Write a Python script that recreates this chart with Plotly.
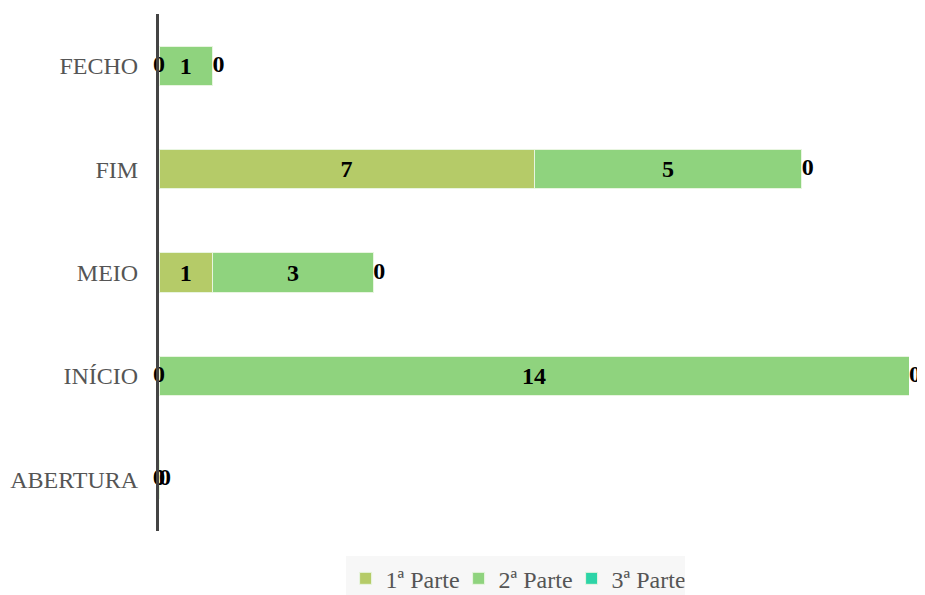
import plotly.graph_objects as go

categorias = ["ABERTURA", "INÍCIO", "MEIO", "FIM", "FECHO"]
parte1 = [0, 0, 1, 7, 0]
parte2 = [0, 14, 3, 5, 1]
parte3 = [0, 0, 0, 0, 0]

series = [("1ª Parte", parte1, "#b5cb68"), ("2ª Parte", parte2, "#8fd37e"), ("3ª Parte", parte3, "#2dd4a7")]
FONTE = "Liberation Serif"

fig = go.Figure()
for nome, vals, cor in series:
    fig.add_trace(go.Bar(
        y=categorias, x=vals, name=nome, orientation="h",
        marker=dict(color=cor, line=dict(color="#e8f5e0", width=1)),
        width=0.38,
        text=[str(v) if v else "" for v in vals],
        texttemplate="<b>%{text}</b>",
        textposition="inside", insidetextanchor="middle",
        textfont=dict(family=FONTE, size=24, color="black"),
        hoverinfo="x+name",
    ))

# rótulos dos zeros (na base de cada segmento)
base = [0] * len(categorias)
zx, zy, zpos = [], [], []
for i, (nome, vals, cor) in enumerate(series):
    for j, v in enumerate(vals):
        if v == 0:
            zx.append(base[j])
            zy.append(categorias[j])
            zpos.append("middle right" if i == 2 else "middle center")
        base[j] += v

fig.add_trace(go.Scatter(
    x=zx, y=zy, mode="text", text=["<b>0</b>"] * len(zx), textposition=zpos,
    textfont=dict(family=FONTE, size=24, color="black"),
    showlegend=False, hoverinfo="skip", cliponaxis=False,
))

# a página tem margem de 8px no body
fig.update_layout(
    barmode="stack",
    width=917, height=587,
    margin=dict(l=151, r=16, t=6, b=64, autoexpand=False),
    plot_bgcolor="white", paper_bgcolor="white",
    font=dict(family=FONTE, size=24, color="#555"),
    uniformtext=dict(mode="show", minsize=10),
    legend=dict(orientation="h", xref="container", x=0.553, xanchor="center",
                yref="container", y=0.066, yanchor="top",
                bgcolor="#f7f7f7", font=dict(size=24, color="#555"),
                traceorder="normal", entrywidth=68, itemwidth=30),
    xaxis=dict(range=[0, 14], visible=False, fixedrange=True),
    yaxis=dict(showline=True, linecolor="#444", linewidth=3, showgrid=False,
               ticks="", ticklabelstandoff=13, range=[-0.5, 4.5], automargin=False),
)

fig.write_html("out.html")
